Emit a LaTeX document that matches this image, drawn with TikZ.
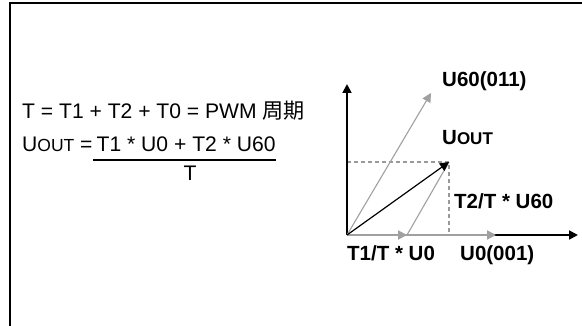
\documentclass[tikz,border=0pt]{standalone}
\usepackage{fontspec}
\setmainfont{Liberation Sans}
\newfontfamily\cjk{Noto Sans CJK TC}
\usetikzlibrary{arrows.meta}
\definecolor{vgray}{HTML}{A0A0A0}
\definecolor{dgray}{HTML}{999999}
\begin{document}
\begin{tikzpicture}[x=1pt,y=-1pt,
  txt/.style={inner sep=0pt,font=\fontsize{21.1}{24}\selectfont},
  btxt/.style={inner sep=0pt,font=\fontsize{20.5}{24}\selectfont\bfseries},
  axisline/.style={draw=black,line width=1.8pt,-{Triangle[length=9pt,width=9pt]}},
  gvec/.style={draw=vgray,line width=1.1pt,-{Triangle[length=9pt,width=9pt]}},
  gthick/.style={draw=vgray,line width=2pt,-{Triangle[length=9pt,width=9pt]}},
  bvec/.style={draw=black,line width=1.2pt,-{Triangle[length=9pt,width=9pt]}},
  dashline/.style={draw=dgray,line width=1.2pt,dash pattern=on 4pt off 3pt},
  gline/.style={draw=vgray,line width=1.1pt},
  framestyle/.style={draw=black,line width=1.8pt}]
\useasboundingbox (0,0) rectangle (582,326);
% frame
\coordinate (fb) at (10,340);
\coordinate (fc) at (10,2.7);
\coordinate (fr) at (600,2.7);
\draw[framestyle] (fb) -- (fc) -- (fr);
% formulas
\node[txt,anchor=base west] (l1) at (22,118.3) {T = T1 + T2 + T0 = PWM {\cjk 周期}};
\node[txt,anchor=base west] (l2) at (22,152) {U{\fontsize{17.5}{20}\selectfont OUT} =};
\node[txt,anchor=base west] (num) at (96.5,152) {T1 * U0 + T2 * U60};
\coordinate (barL) at (93,160);
\coordinate (barR) at (276,160);
\draw[line width=2pt] (barL) -- (barR);
\node[txt,anchor=base] (den) at (190,181) {T};
% vector diagram
\coordinate (O) at (347,235);
\coordinate (Y) at (347,84);
\coordinate (X) at (578,235);
\coordinate (U0) at (496,235);
\coordinate (T1) at (407,235);
\coordinate (U60) at (431,93);
\coordinate (UO) at (449,162);
\coordinate (D1) at (347,162);
\coordinate (D2) at (449,235);
\draw[dashline] (D1) -- (UO) -- (D2);
\draw[axisline] (O) -- (Y);
\draw[axisline] (O) -- (X);
\draw[gthick] (O) -- (U0);
\draw[gthick] (O) -- (T1);
\draw[gvec] (O) -- (U60);
\draw[gline] (T1) -- (UO);
\draw[bvec] (O) -- (UO);
% labels
\node[btxt,anchor=base west] (lu60) at (442,86.5) {U60(011)};
\node[btxt,anchor=base west] (luo) at (442,145) {U{\fontsize{17}{20}\selectfont OUT}};
\node[btxt,anchor=base west] (lt2) at (454,209) {T2/T * U60};
\node[btxt,anchor=base west] (lt1) at (347,261) {T1/T * U0};
\node[btxt,anchor=base west] (lu0) at (460,261) {U0(001)};
\end{tikzpicture}
\end{document}
